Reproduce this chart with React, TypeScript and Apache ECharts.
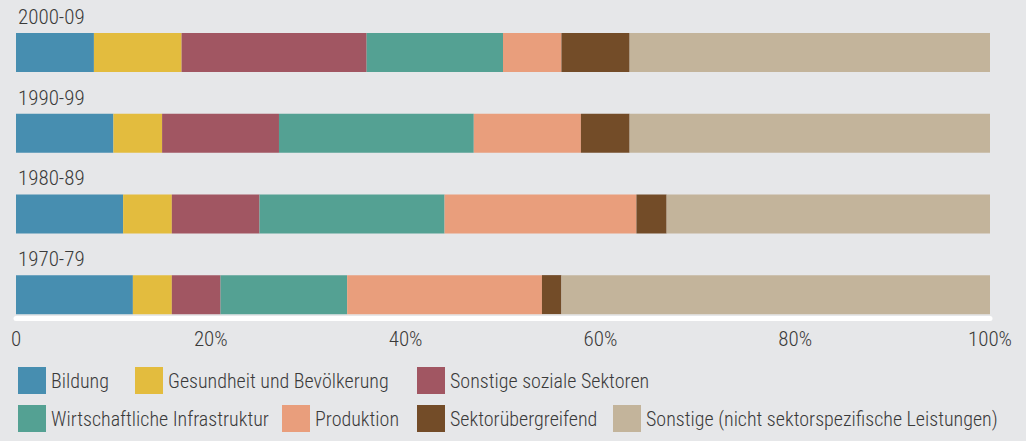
import React, { useEffect, useRef } from "react";
import * as echarts from "echarts";

const periods = ["2000-09", "1990-99", "1980-89", "1970-79"];
const seriesNames = [
  "Bildung",
  "Gesundheit und Bevölkerung",
  "Sonstige soziale Sektoren",
  "Wirtschaftliche Infrastruktur",
  "Produktion",
  "Sektorübergreifend",
  "Sonstige (nicht sektorspezifische Leistungen)",
];
const bildung = [8, 10, 11, 12];
const gesundheit = [9, 5, 5, 4];
const sozial = [19, 12, 9, 5];
const infrastruktur = [14, 20, 19, 13];
const produktion = [6, 11, 19.7, 20];
const sektoruebergreifend = [7, 5, 3.1, 2];
const sonstige = [37, 37, 33.2, 44];
const seriesValues = [bildung, gesundheit, sozial, infrastruktur, produktion, sektoruebergreifend, sonstige];
const colors = ["#478EB0", "#E3BC3E", "#A15662", "#54A193", "#E99E7C", "#734C28", "#C3B49B"];
const tickValues = [0, 20, 40, 60, 80, 100];

const FONT = "'Roboto Condensed', 'Liberation Sans Narrow', Roboto, sans-serif";
const TEXT = "#3a3a3a";
const FW = 300;
const FS_LEGEND = 20;
const FS_AXIS = 21;
const FS_TITLE = 21;

export default function App() {
  const ref = useRef<HTMLDivElement>(null);
  useEffect(() => {
    if (!ref.current) return;
    const chart = echarts.init(ref.current, undefined, { renderer: "svg" });
    const legendPos = [
      [18, 367], [135, 367], [417, 367],
      [18, 405], [282, 405], [417, 405], [613, 405],
    ];
    chart.setOption({
      animation: false,
      backgroundColor: "#E6E7E9",
      textStyle: { fontFamily: FONT, fontWeight: FW },
      grid: { left: 16, right: 36, top: 12, bottom: 106 },
      legend: seriesNames.map((n, i) => ({
        data: [n],
        left: legendPos[i][0],
        top: legendPos[i][1],
        padding: 0,
        icon: "rect",
        itemWidth: 28,
        itemHeight: 27,
        selectedMode: false,
        textStyle: { fontFamily: FONT, fontWeight: FW, fontSize: FS_LEGEND, color: TEXT, padding: [7, 0, 0, 0] },
      })),
      xAxis: {
        type: "value",
        min: 0,
        max: 100,
        interval: 20,
        offset: -17,
        axisLine: { show: true, lineStyle: { color: "#FFFFFF", width: 5 } },
        axisTick: { show: false },
        splitLine: { show: false },
        axisLabel: {
          margin: 10,
          fontFamily: FONT,
          fontWeight: FW,
          fontSize: FS_AXIS,
          color: TEXT,
          formatter: (v: number) => (tickValues.includes(v) ? (v === 0 ? "0" : v + "%") : ""),
        },
      },
      yAxis: {
        type: "category",
        data: periods,
        inverse: true,
        show: false,
      },
      series: seriesNames.map((n, i) => ({
        name: n,
        type: "bar",
        stack: "total",
        barWidth: 39,
        data: seriesValues[i],
        itemStyle: { color: colors[i] },
        label:
          i === 0
            ? {
                show: true,
                position: [2, -16],
                verticalAlign: "middle",
                align: "left",
                formatter: "{b}",
                fontFamily: FONT,
                fontWeight: FW,
                fontSize: FS_TITLE,
                color: TEXT,
              }
            : { show: false },
        emphasis: { disabled: true },
      })),
    });
    return () => chart.dispose();
  }, []);
  return (
    <div
      ref={ref}
      style={{ position: "fixed", left: 0, top: 0, width: 1026, height: 441 }}
    />
  );
}
